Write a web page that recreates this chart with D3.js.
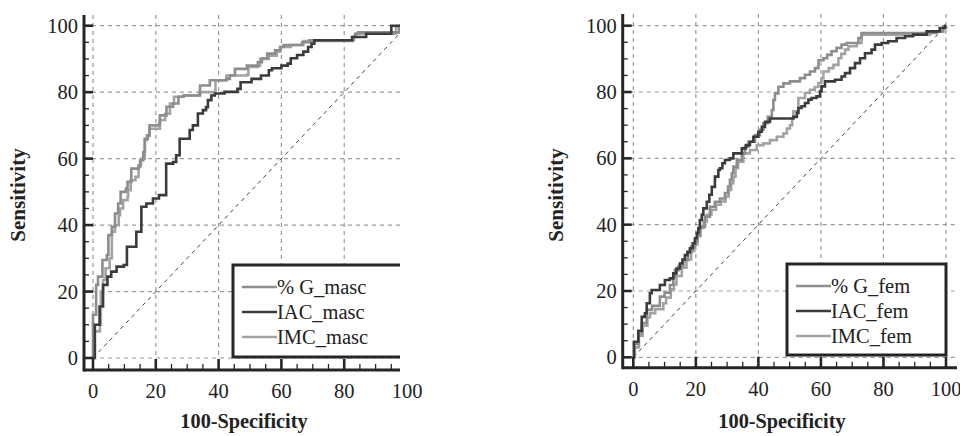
<!DOCTYPE html>
<html>
<head>
<meta charset="utf-8">
<script src="https://cdn.jsdelivr.net/npm/d3@7"></script>
<style>
  html, body { margin: 0; padding: 0; background: #fff; }
  svg { display: block; }
  text { font-family: "Liberation Serif", "DejaVu Serif", serif; fill: #222; }
</style>
</head>
<body>
<svg id="chart" width="960" height="436"></svg>
<script>
// ---------- DATA ----------
const xTickValues = [0, 20, 40, 60, 80, 100];
const yTickValues = [0, 20, 40, 60, 80, 100];
const xTitle = "100-Specificity";
const yTitle = "Sensitivity";

const seriesNamesMasc = ["% G_masc", "IAC_masc", "IMC_masc"];
const seriesNamesFem = ["% G_fem", "IAC_fem", "IMC_fem"];

// ROC points [100-specificity, sensitivity] (step after)
const gMasc = [[0,0],[0,13],[1,22],[1.6,24.5],[3,29.5],[4.4,31],[4.9,37],[6,39.5],[7,43.5],[8,46.5],[8.8,50],[10.5,51],[11,53],[12.2,57],[14.5,57.5],[15,59.5],[16,62],[16.5,66],[17.5,67],[18,70],[20.7,70.2],[21.3,73],[23.4,75.6],[25.5,76.6],[27.2,78.6],[28.8,79],[34.1,79.2],[34.1,82],[37.2,83.6],[42.5,84],[43.6,85],[45.2,87],[49,88],[52.5,89],[53.8,90.2],[55.5,91.6],[58,92.6],[59.6,93.6],[60.7,94.2],[66.6,95],[69,95.6],[83,96.6],[83.5,97.6],[84.5,98],[96,98],[97.5,100],[100,100]];
const iacMasc = [[0,0],[0.6,10],[2.1,15.5],[3.2,22],[4.6,24.5],[5.8,26],[7.5,27.5],[9.8,28],[10.8,33.5],[13.8,38],[15.4,45.5],[17,46.5],[19.1,48],[21,49],[23.3,51.5],[23.3,58.5],[25.5,59],[26.5,61],[27.6,66],[30.8,68.6],[31.8,70],[33.4,73.6],[35,74.6],[36,75.5],[36.6,77.6],[37.7,79],[38.8,79.6],[41.9,80.1],[46,81],[47,83],[50.5,84],[53.5,85],[56,86.6],[57,87.2],[60,88],[62,88.6],[63,90.2],[65,91.2],[67,92.2],[68.5,93.6],[69.6,94.6],[70.5,95.6],[82.5,96.6],[87,97.6],[95,100],[100,100]];
const imcMasc = [[0,0],[0.5,8],[2.2,10],[2.5,20],[3.2,23.5],[4,27],[5.3,30],[6,38],[7,40],[8.2,43],[8.6,45],[9.6,47.5],[11,48.5],[11.2,50.5],[12,53.5],[13.5,54.5],[14.5,58],[15.3,60],[16.5,65.6],[17.2,67],[18,69],[20.3,69],[21.3,71.6],[23,73.5],[24.5,76.6],[25.8,78.6],[28.8,79],[33.8,80],[39,83.6],[42.5,85],[49,85.2],[49.5,87.6],[52.5,88],[53.2,90],[56,91],[58.5,92.2],[59.6,93.6],[63,94.2],[67,95.4],[82.7,96.6],[83.8,97.6],[95.5,97.6],[96.5,99.6],[100,100]];

const gFem = [[0,0],[0.3,4],[1.6,7.2],[2.7,10.3],[4.3,14.3],[6,15.5],[8.5,18.3],[10,19.5],[11.7,21.8],[12.8,24.3],[13.3,26.3],[14.5,27.5],[16,29.3],[17.5,31.5],[18.5,33.5],[19.7,34.9],[20.5,37],[21.3,39.4],[22.9,42.4],[24.5,45.4],[26.1,46.9],[27.7,47.9],[29.3,49.5],[30.3,51.5],[30.9,53.5],[31.5,55.5],[32,57.5],[33.1,59.5],[34.7,61.5],[35.7,63.5],[36.8,65],[38.9,67],[40.5,68.6],[41.6,70.6],[43,72.5],[44.3,74.6],[44.8,77.6],[45.3,79.6],[46.4,81.6],[48,82.6],[50.1,83.2],[53.3,84.2],[54.9,85.2],[56.5,86.2],[58.1,87.2],[59.2,89.6],[60.8,90.2],[62,91.2],[63.4,92.3],[65,93.3],[66.6,94.3],[68.2,94.8],[72,96.3],[73,97.8],[97,98.3],[99.1,99.8],[100,100]];
const iacFem = [[0,0],[0.2,4.7],[1.6,8],[2.7,12.2],[3.7,13.3],[4.3,16.3],[5.3,19.3],[5.9,20.3],[8.5,21.8],[10.1,23.3],[11.7,23.8],[12.8,25.3],[13.8,26.8],[14.9,28.3],[15.7,29.5],[16.5,30.8],[17.3,31.8],[18.1,32.9],[19,34.4],[19.7,35.9],[20.3,37.5],[20.8,38.9],[21.3,41.4],[21.9,43],[22.4,44.9],[23.5,46.9],[24.3,49],[25.1,51.4],[26.1,54.5],[27.2,56.5],[27.7,57],[28.5,58.5],[29.3,59.5],[30.9,60],[32,61.5],[34.7,63],[36,64],[37.3,65],[38.4,66.5],[40,68],[41.1,69.5],[42.1,71],[43.7,72],[51.2,72.5],[52.3,73.7],[52.8,75.2],[53.8,75.7],[54.9,76.7],[56,77.7],[57,78.2],[58.6,78.7],[59.7,80.2],[60.2,81.7],[61.3,83.2],[64.5,83.7],[66.6,84.7],[67.7,85.7],[69.3,87.2],[70.9,88.7],[72.5,90.2],[74.1,91.7],[76.2,92.8],[77.3,94.3],[79.4,94.8],[81.5,95.3],[84.2,96.3],[86.9,96.8],[89.5,97.3],[93.8,98.3],[98,99.3],[99.7,100],[100,100]];
const imcFem = [[0,0],[0.5,3],[1.8,6.5],[3,9.5],[4.5,12],[5.3,13.3],[7,14.5],[9.6,16.3],[10.5,18],[12,20.5],[13,22],[13.8,24.5],[15.5,27],[17,29.5],[18.5,32],[19.5,34],[20.5,36.5],[21.5,39],[22.5,41],[23.5,43],[25,44.5],[26.5,46],[28,47],[29.5,48.5],[30.5,50.5],[31.3,52.5],[32,54.5],[32.7,57],[33.5,59],[35.2,61.5],[37.3,62.5],[39.5,64],[41.6,64.5],[43.7,65.5],[45.9,66.5],[48,67.5],[49.1,69],[50.1,70],[50.8,72],[51.2,74.2],[52.8,78.2],[54.9,79.7],[56.5,80.7],[58,81.5],[59.2,82.7],[60.2,84.2],[60.8,86.2],[62.5,87.2],[64,88.2],[65.6,90.2],[66.5,91.5],[67.7,92.8],[68.8,93.8],[71.5,94.8],[73,97.3],[93.8,97.3],[94.9,98.3],[99.1,99.3],[100,100]];

// ---------- STYLE ----------
const seriesColors = ["#8d8d8d", "#3b3b3b", "#a3a3a3"];
const axisColor = "#262626";

const svg = d3.select("#chart");

function drawPanel(p) {
  const g = svg.append("g");
  const x = d3.scaleLinear().domain([0, 100]).range([p.x0, p.x100]);
  const y = d3.scaleLinear().domain([0, 100]).range([p.y0, p.y100]);

  const clipId = "clip" + p.id;
  svg.append("defs").append("clipPath").attr("id", clipId)
    .append("rect").attr("x", p.axisX - 5).attr("y", 0)
    .attr("width", p.clipRight - p.axisX + 5).attr("height", 436);

  const plot = g.append("g").attr("clip-path", `url(#${clipId})`);

  // grid
  plot.append("g").selectAll("line.gx").data(xTickValues).join("line")
    .attr("x1", d => x(d)).attr("x2", d => x(d))
    .attr("y1", p.axisTop).attr("y2", p.axisY)
    .attr("stroke", "#9a9a9a").attr("stroke-width", 1.2).attr("stroke-dasharray", "4,4");
  plot.append("g").selectAll("line.gy").data(yTickValues).join("line")
    .attr("x1", p.axisX).attr("x2", p.axisRight)
    .attr("y1", d => y(d)).attr("y2", d => y(d))
    .attr("stroke", "#9a9a9a").attr("stroke-width", 1.2).attr("stroke-dasharray", "4,4");

  // diagonal
  plot.append("line")
    .attr("x1", x(0)).attr("y1", y(0)).attr("x2", x(100)).attr("y2", y(100))
    .attr("stroke", "#444").attr("stroke-width", 1).attr("stroke-dasharray", "4,4");

  // curves
  const line = d3.line().x(d => x(d[0])).y(d => y(d[1])).curve(d3.curveStepAfter);
  const order = [2, 0, 1];
  order.forEach(i => {
    plot.append("path").datum(p.series[i])
      .attr("d", line).attr("fill", "none")
      .attr("stroke", seriesColors[i]).attr("stroke-width", 2.6)
      .attr("stroke-linejoin", "miter");
  });

  // legend
  const lg = plot.append("g");
  lg.append("rect").attr("x", p.legX).attr("y", p.legY)
    .attr("width", p.legW).attr("height", p.legH)
    .attr("fill", "#fff").attr("stroke", axisColor).attr("stroke-width", 3);
  p.names.forEach((n, i) => {
    const cy = p.legY + 22 + i * 25;
    lg.append("line").attr("x1", p.legX + 9).attr("x2", p.legX + 44)
      .attr("y1", cy).attr("y2", cy)
      .attr("stroke", seriesColors[i]).attr("stroke-width", 2.6);
    lg.append("text").attr("x", p.legX + 44).attr("y", cy + 6.8)
      .attr("font-size", 20.5).text(n);
  });

  // axes lines
  plot.append("line").attr("x1", p.axisX).attr("x2", p.axisRight)
    .attr("y1", p.axisY).attr("y2", p.axisY)
    .attr("stroke", axisColor).attr("stroke-width", 3);
  g.append("line").attr("x1", p.axisX).attr("x2", p.axisX)
    .attr("y1", p.axisTop).attr("y2", p.axisY + 1.5)
    .attr("stroke", axisColor).attr("stroke-width", 3);

  // ticks
  const minor = d3.range(0, 101, 5);
  plot.append("g").selectAll("line").data(minor).join("line")
    .attr("x1", d => x(d)).attr("x2", d => x(d))
    .attr("y1", p.axisY).attr("y2", d => p.axisY - (d % 20 === 0 ? 11 : 6))
    .attr("stroke", axisColor).attr("stroke-width", d => d % 20 === 0 ? 2.6 : 1.3);
  g.append("g").selectAll("line").data(minor).join("line")
    .attr("y1", d => y(d)).attr("y2", d => y(d))
    .attr("x1", p.axisX).attr("x2", d => p.axisX + (d % 20 === 0 ? 9 : 5))
    .attr("stroke", axisColor).attr("stroke-width", d => d % 20 === 0 ? 2.6 : 1.3);

  // tick labels
  g.append("g").selectAll("text").data(xTickValues).join("text")
    .attr("x", d => x(d)).attr("y", p.axisY + 28)
    .attr("text-anchor", "middle").attr("font-size", 20.5).text(d => d);
  g.append("g").selectAll("text").data(yTickValues).join("text")
    .attr("x", p.axisX - 6).attr("y", d => y(d) + 7)
    .attr("text-anchor", "end").attr("font-size", 20.5).text(d => d);

  // titles
  g.append("text").attr("x", p.xTitleX).attr("y", 428)
    .attr("text-anchor", "middle").attr("font-size", 20.3).attr("font-weight", "bold")
    .text(xTitle);
  g.append("text").attr("transform", `translate(${p.yTitleX},${195}) rotate(-90)`)
    .attr("text-anchor", "middle").attr("font-size", 21).attr("font-weight", "bold")
    .text(yTitle);
}

drawPanel({
  id: "L", x0: 93, x100: 407, y0: 358, y100: 25.7,
  axisX: 84, axisY: 370, axisTop: 15, axisRight: 400, clipRight: 400,
  legX: 233, legY: 265, legW: 200, legH: 92,
  series: [gMasc, iacMasc, imcMasc], names: seriesNamesMasc,
  xTitleX: 244, yTitleX: 25
});
drawPanel({
  id: "R", x0: 633.3, x100: 946, y0: 357.3, y100: 25.7,
  axisX: 622.7, axisY: 367.7, axisTop: 14, axisRight: 957, clipRight: 960,
  legX: 787, legY: 264, legW: 159, legH: 91,
  series: [gFem, iacFem, imcFem], names: seriesNamesFem,
  xTitleX: 782, yTitleX: 563
});
</script>
</body>
</html>
